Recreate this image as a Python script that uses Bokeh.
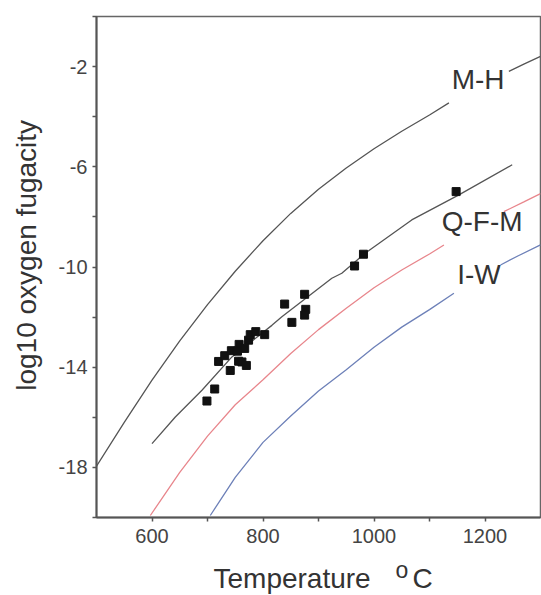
import math
from bokeh.plotting import figure
from bokeh.models import Range1d, FixedTicker, Label
from bokeh.embed import file_html
from bokeh.resources import INLINE

nan = float("nan")

# M-H buffer curve (gap where the label sits)
mh_T = [500, 550, 600, 650, 700, 750, 800, 850, 900, 950, 1000, 1050, 1100, 1135, nan, 1243, 1270, 1300]
mh_L = [-17.95, -16.2, -14.52, -12.95, -11.5, -10.17, -8.95, -7.86, -6.9, -6.05, -5.28, -4.58, -3.93, -3.45, nan, -2.19, -1.9, -1.59]

# trend line through the samples
qfm_T = [600, 642, 690, 744, 816, 834, 924, 942, 984, 1068, 1153, 1249]
qfm_L = [-17.05, -15.99, -14.92, -13.59, -12.33, -11.99, -10.45, -10.25, -9.45, -8.12, -7.12, -5.92]

# red curve (Q-F-M)
red_T = [597, 650, 700, 750, 800, 850, 900, 950, 1000, 1050, 1100, 1126, nan, 1234, 1270, 1300]
red_L = [-19.92, -18.2, -16.75, -15.5, -14.5, -13.45, -12.5, -11.65, -10.83, -10.12, -9.48, -9.12, nan, -7.79, -7.4, -7.07]

# blue curve (I-W)
iw_T = [705, 750, 800, 850, 900, 950, 1000, 1050, 1100, 1144, nan, 1228, 1260, 1300]
iw_L = [-19.92, -18.4, -17.0, -15.95, -14.95, -14.1, -13.2, -12.4, -11.7, -11.05, nan, -9.92, -9.55, -9.12]

# samples
pts_T = [699, 713, 720, 731, 741, 743, 757, 756, 762, 770, 754, 767, 774, 777, 787, 803,
         839, 852, 875, 877, 875, 965, 981, 1148]
pts_L = [-15.35, -14.87, -13.77, -13.54, -14.13, -13.34, -13.09, -13.76, -13.79, -13.93, -13.36, -13.25,
         -12.92, -12.7, -12.58, -12.7, -11.48, -12.21, -11.09, -11.69, -11.92, -9.96, -9.49, -6.99]

x_major = [600, 800, 1000, 1200]
x_minor = [700, 900, 1100]
y_major = [-18, -14, -10, -6, -2]
y_minor = [-20, -16, -12, -8, -4, 0]

FONT = "Liberation Sans"
TXT = "#333333"

p = figure(width=541, height=595, frame_width=444, frame_height=501,
           x_range=Range1d(500, 1300), y_range=Range1d(-20, 0),
           output_backend="svg", toolbar_location=None,
           min_border_left=96, min_border_top=16, min_border_right=1, min_border_bottom=78)
p.background_fill_color = "white"
p.border_fill_color = "white"
p.grid.visible = False
p.outline_line_color = "#666666"
p.outline_line_width = 1.5

for ax in (p.xaxis[0], p.yaxis[0]):
    ax.axis_line_color = "#555555"
    ax.axis_line_width = 2
    ax.major_tick_line_color = "#555555"
    ax.minor_tick_line_color = "#555555"
    ax.major_tick_line_width = 1.5
    ax.minor_tick_line_width = 1.5
    ax.major_tick_in = 0
    ax.major_tick_out = 4
    ax.minor_tick_in = 0
    ax.minor_tick_out = 4
    ax.major_label_text_font = FONT
    ax.major_label_text_font_size = "20px"
    ax.major_label_text_color = "#444444"

p.xaxis[0].ticker = FixedTicker(ticks=x_major, minor_ticks=x_minor)
p.yaxis[0].ticker = FixedTicker(ticks=y_major, minor_ticks=y_minor)
p.yaxis[0].major_label_overrides = {v: str(v) for v in y_major}
p.xaxis[0].major_label_standoff = 7
p.yaxis[0].major_label_standoff = 5

p.yaxis[0].axis_label = "\u00a0\u00a0\u00a0log10 oxygen fugacity"
p.yaxis[0].axis_label_text_font = FONT
p.yaxis[0].axis_label_text_font_size = "28px"
p.yaxis[0].axis_label_text_font_style = "normal"
p.yaxis[0].axis_label_text_color = TXT
p.yaxis[0].axis_label_standoff = 14

p.line(mh_T, mh_L, line_color="#555555", line_width=1.3)
p.line(qfm_T, qfm_L, line_color="#555555", line_width=1.3)
p.line(red_T, red_L, line_color="#e8868c", line_width=1.3)
p.line(iw_T, iw_L, line_color="#6d80b8", line_width=1.3)
p.scatter(pts_T, pts_L, marker="square", size=8, fill_color="#111111", line_color="#111111")

def lab(x, y, t, size="28px", units="data", place=None, **kw):
    l = Label(x=x, y=y, text=t, text_font=FONT, text_font_size=size,
              text_color=TXT, x_units=units, y_units=units, **kw)
    if place:
        p.add_layout(l, place)
    else:
        p.add_layout(l)

lab(1140, -3.12, "M-H")
lab(1122, -8.8, "Q-F-M")
lab(1150, -10.92, "I-W")

lab(117, -2, "Temperature", units="screen", place="below", text_baseline="alphabetic")
lab(299, 33, "o", size="23px", units="screen", place="below", text_baseline="alphabetic")
lab(316, 55, "C", units="screen", place="below", text_baseline="alphabetic")

open("out.html", "w").write(file_html(p, INLINE))
